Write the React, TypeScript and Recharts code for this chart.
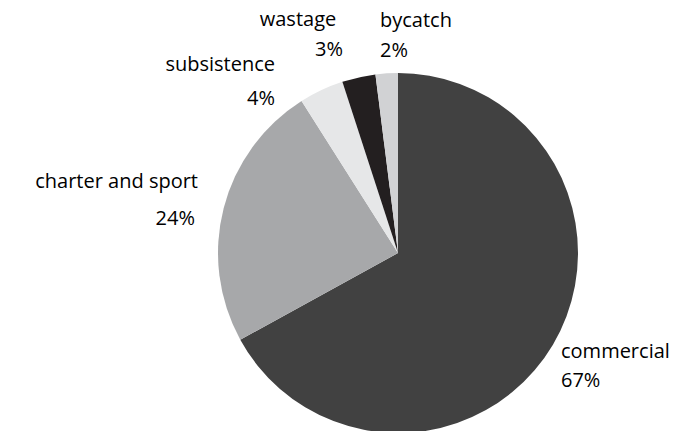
import { PieChart, Pie, Cell } from "recharts";

// 漁獲の用途別内訳(%)。12時から時計回り。
const CATEGORIES = ["commercial", "charter and sport", "subsistence", "wastage", "bycatch"];
const SHARES = [67, 24, 4, 3, 2];
const COLORS = ["#414141", "#a7a8aa", "#e6e7e8", "#231f20", "#d1d2d4"];

// ラベル位置(円の中心からのずれ、ベースライン基準)。Excelの自動配置に合わせて手で調整。
type Anchor = "start" | "middle" | "end";
const LABEL_POS: { anchor: Anchor; nx: number; ny: number; px: number; py: number; pAnchor: Anchor }[] = [
  { anchor: "start", nx: 163, ny: 105, px: 163, py: 134, pAnchor: "start" },
  { anchor: "end", nx: -200, ny: -65, px: -203, py: -28, pAnchor: "end" },
  { anchor: "end", nx: -123, ny: -182, px: -123, py: -148, pAnchor: "end" },
  { anchor: "middle", nx: -100, ny: -227, px: -55, py: -197, pAnchor: "end" },
  { anchor: "start", nx: -18, ny: -226, px: -18, py: -196, pAnchor: "start" },
];

const data = CATEGORIES.map((name, i) => ({ name, value: SHARES[i] }));

const FONT = "'Open Sans', sans-serif";

function renderLabel(props: any) {
  const { cx, cy, index, name, value } = props;
  const p = LABEL_POS[index];
  return (
    <g>
      <text x={cx + p.nx} y={cy + p.ny} textAnchor={p.anchor} fontSize={20} fill="#000" fontFamily={FONT}>
        {name}
      </text>
      <text x={cx + p.px} y={cy + p.py} textAnchor={p.pAnchor} fontSize={20} fill="#000" fontFamily={FONT}>
        {`${value}%`}
      </text>
    </g>
  );
}

export default function App() {
  return (
    <div style={{ position: "absolute", left: 0, top: 0, background: "#fff" }}>
      <PieChart width={699} height={431} margin={{ top: 0, right: 0, bottom: 0, left: 0 }}>
        <Pie
          data={data}
          dataKey="value"
          nameKey="name"
          cx={398}
          cy={253}
          outerRadius={180}
          startAngle={90}
          endAngle={-270}
          stroke="none"
          label={renderLabel}
          labelLine={false}
          isAnimationActive={false}
        >
          {data.map((d, i) => (
            <Cell key={d.name} fill={COLORS[i]} />
          ))}
        </Pie>
      </PieChart>
    </div>
  );
}
